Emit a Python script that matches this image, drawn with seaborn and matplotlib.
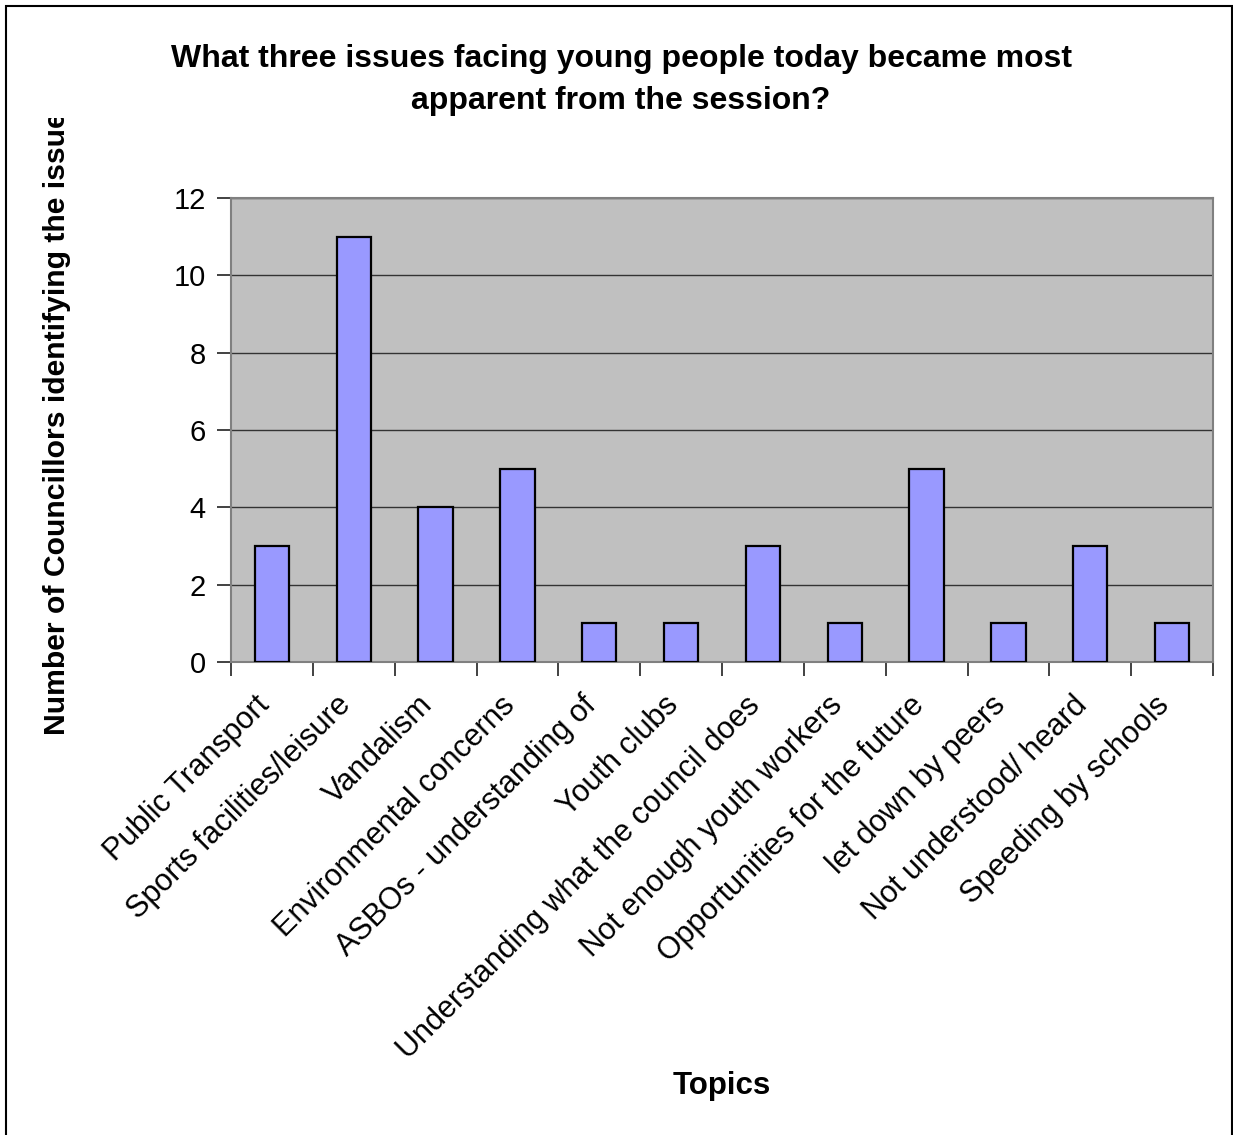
import matplotlib
matplotlib.use("Agg")
import matplotlib.pyplot as plt
import seaborn as sns
import pandas as pd
from matplotlib.transforms import Bbox, TransformedBbox, ScaledTranslation
from matplotlib.patches import Rectangle

categories = ["Public Transport", "Sports facilities/leisure", "Vandalism",
              "Environmental concerns", "ASBOs - understanding of", "Youth clubs",
              "Understanding what the council does", "Not enough youth workers",
              "Opportunities for the future", "let down by peers",
              "Not understood/ heard", "Speeding by schools"]
values = [3, 11, 4, 5, 1, 1, 3, 1, 5, 1, 3, 1]
y_ticks = [0, 2, 4, 6, 8, 10, 12]

sns.set_theme(style="white")
plt.rcParams['font.family'] = ['Liberation Sans', 'DejaVu Sans']
plt.rcParams['text.color'] = 'black'
plt.rcParams['xtick.color'] = 'black'
plt.rcParams['ytick.color'] = 'black'

W, H = 1233, 1135
fig = plt.figure(figsize=(W/100, H/100), dpi=100)
ax = fig.add_axes([231/W, 1-662/H, (1213-231)/W, (662-198)/H])

df = pd.DataFrame({"topic": categories, "count": values})
sns.barplot(data=df, x="topic", y="count", ax=ax, color="#9999FF",
            saturation=1, width=0.42, edgecolor="black", linewidth=1.6, zorder=3)

ax.set_facecolor("#C0C0C0")
ax.set_ylim(0, 12)
ax.set_xlim(-0.5, len(categories)-0.5)
ax.set_yticks(y_ticks)
ax.set_yticklabels([str(v) for v in y_ticks], fontsize=21)
ax.yaxis.grid(True, color="#333333", linewidth=1.0, zorder=1)
ax.set_axisbelow(True)
for s in ax.spines.values():
    s.set_color("#808080")
    s.set_linewidth(1.5)
    s.set_visible(True)

ax.set_xticks([i - 0.5 for i in range(len(categories)+1)], minor=True)
ax.set_xticks(range(len(categories)))
ax.set_xticklabels(categories, rotation=45, ha="right", va="center",
                   rotation_mode="anchor", fontsize=22)
ax.tick_params(axis="x", which="major", length=0, pad=28)
ax.tick_params(axis="x", which="minor", length=10, width=1.3, color="#333333", bottom=True)
ax.tick_params(axis="y", which="major", length=10, width=1.3, color="#333333", left=True, pad=8)
offset = ScaledTranslation(-7/100, 0, fig.dpi_scale_trans)
for lbl in ax.get_xticklabels():
    lbl.set_transform(lbl.get_transform() + offset)
ax.set_xlabel("")
ax.set_ylabel("")

fig.text(621/W, 1-80/H, "What three issues facing young people today became most\napparent from the session?",
         ha="center", va="center", fontsize=23, fontweight="bold", linespacing=1.5)
fig.text(722/W, 1-1086/H, "Topics", ha="center", va="center", fontsize=22.5, fontweight="bold")

yl = fig.text(57/W, 1-735/H, "Number of Councillors identifying the issue", rotation=90,
              ha="center", va="bottom", fontsize=21.7, fontweight="bold")
yl.set_clip_on(True)
yl.set_clip_box(TransformedBbox(Bbox([[0, 0], [1, 1-118/H]]), fig.transFigure))

fig.patches.append(Rectangle((6/W, -0.01), (1232-6)/W, 1.01-6/H, transform=fig.transFigure,
                             fill=False, edgecolor="black", linewidth=1.5))

fig.savefig("out.png", dpi=100)
